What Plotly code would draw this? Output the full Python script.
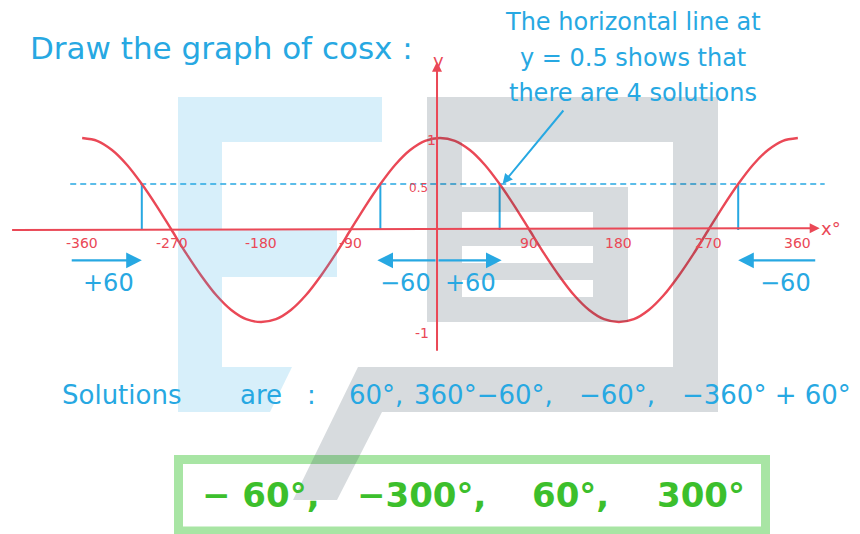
import plotly.graph_objects as go

# curve values, every 15 degrees
angles = list(range(-360, 361, 15))
cos_vals = [1, 0.97, 0.87, 0.71, 0.5, 0.26, 0, -0.26, -0.5, -0.71, -0.87, -0.97,
            -1, -0.97, -0.87, -0.71, -0.5, -0.26, 0, 0.26, 0.5, 0.71, 0.87, 0.97,
            1, 0.97, 0.87, 0.71, 0.5, 0.26, 0, -0.26, -0.5, -0.71, -0.87, -0.97,
            -1, -0.97, -0.87, -0.71, -0.5, -0.26, 0, 0.26, 0.5, 0.71, 0.87, 0.97, 1]

solutions = [-300, -60, 60, 300]
level = 0.5

tick_vals = [-360, -270, -180, -90, 90, 180, 270, 360]
tick_text = ["-360", "-270", "-180", "-90", "90", "180", "270", "360"]

RED = "#ea4856"
BLUE = "#27a8e2"
GREEN = "#3cbf2c"
FONT = "DejaVu Sans"

W, H = 860, 534
OFF = 8  # the page body keeps its default 8px margin
# pixel mapping of the sketch: 0 deg at x=440, ~1px per degree; y=0 at 230, 92px per unit
X0, XS = 440 - OFF, 0.994
Y0, YS = 230 - OFF, 92


def px(x):
    return (x - OFF) / W


def py(y):
    return 1 - (y - OFF) / H


def poly(points):
    return "M " + " L ".join(f"{px(x)},{py(y)}" for x, y in points) + " Z"


def label(x, y, t, size, color, anchor="center", bold=False):
    f = dict(family=FONT, size=size, color=color)
    if bold:
        f["weight"] = "bold"
    return dict(x=px(x), y=py(y), xref="paper", yref="paper", text=t, showarrow=False,
                xanchor=anchor, yanchor="middle", font=f)


fig = go.Figure()

# dashed line y = 0.5
fig.add_trace(go.Scatter(x=[-372, 387], y=[level, level], mode="lines",
                         line=dict(color=BLUE, width=1.6, dash="6px,4px"),
                         hoverinfo="skip"))

# vertical drops at the solutions
vx, vy = [], []
for s in solutions:
    vx += [s, s, None]
    vy += [0, level, None]
fig.add_trace(go.Scatter(x=vx, y=vy, mode="lines",
                         line=dict(color=BLUE, width=2), hoverinfo="skip"))

# cos curve
fig.add_trace(go.Scatter(x=angles, y=cos_vals, mode="lines",
                         line=dict(color=RED, width=2.4, shape="spline", smoothing=0.8),
                         hoverinfo="skip"))

ann = []

# axes drawn as arrows
ann.append(dict(x=382, y=0.02, ax=-432, ay=0, xref="x", yref="y", axref="x", ayref="y",
                showarrow=True, arrowhead=2, arrowsize=1, arrowwidth=2, arrowcolor=RED, text=""))
ann.append(dict(x=-3, y=1.83, ax=-3, ay=-1.33, xref="x", yref="y", axref="x", ayref="y",
                showarrow=True, arrowhead=2, arrowsize=1, arrowwidth=2, arrowcolor=RED, text=""))

for v, t in zip(tick_vals, tick_text):
    ann.append(dict(x=v, y=-0.14, xref="x", yref="y", text=t, showarrow=False,
                    yanchor="middle", font=dict(family=FONT, size=14, color=RED)))

ann.append(label(418, 188, "0.5", 12, RED))
ann.append(label(431, 140, "1", 14, RED))
ann.append(label(422, 333, "-1", 14, RED))
ann.append(label(831, 228, "x°", 18, RED))
ann.append(label(438, 60, "y", 18, RED))

# shift arrows (+60 / -60)
arrow_y = -0.33
for head, tail in [(-300, -372), (-63, -3), (62, -3), (300, 379)]:
    ann.append(dict(x=head, y=arrow_y, ax=tail, ay=arrow_y, xref="x", yref="y",
                    axref="x", ayref="y", showarrow=True, arrowhead=2, arrowsize=1.3,
                    arrowwidth=2.4, arrowcolor=BLUE, text=""))
for x, t in [(108, "+60"), (405, "−60"), (470, "+60"), (785, "−60")]:
    ann.append(label(x, 283, t, 24, BLUE))

# headings
ann.append(label(28, 48, "Draw the graph of cosx :", 31, BLUE, anchor="left"))
for y, t in [(22, "The horizontal line at"), (58, "y = 0.5 shows that"),
             (93, "there are 4 solutions")]:
    ann.append(label(633, y, t, 24, BLUE))
ann.append(dict(x=63, y=0.5, xref="x", yref="y", ax=62, ay=-75, text="", showarrow=True,
                arrowhead=2, arrowsize=1, arrowwidth=2, arrowcolor=BLUE))

# solutions line
for x, t in [(60, "Solutions"), (238, "are"), (305, ":"), (347, "60°,"),
             (412, "360°−60°,"), (577, "−60°,"), (680, "−360° + 60°")]:
    ann.append(label(x, 395, t, 26, BLUE, anchor="left"))

# boxed answer
for x, t in [(200, "− 60°,"), (355, "−300°,"), (530, "60°,"), (655, "300°")]:
    ann.append(label(x, 495, t, 34, GREEN, anchor="left", bold=True))

shapes = [dict(type="rect", xref="paper", yref="paper", x0=px(178.5), x1=px(765.5),
               y0=py(459.5), y1=py(531), line=dict(color="#a8e5a4", width=9), layer="below")]

# faint logo in the background
grey = "rgba(44,62,80,0.19)"
lblue = "rgba(41,171,226,0.19)"
grey_parts = [
    [(427, 97), (718, 97), (718, 142), (427, 142)],
    [(673, 142), (718, 142), (718, 367), (673, 367)],
    [(427, 142), (462, 142), (462, 187), (427, 187)],
    [(427, 187), (628, 187), (628, 212), (427, 212)],
    [(427, 212), (462, 212), (462, 297), (427, 297)],
    [(593, 212), (628, 212), (628, 297), (593, 297)],
    [(462, 228), (593, 228), (593, 246), (462, 246)],
    [(462, 263), (593, 263), (593, 280), (462, 280)],
    [(427, 297), (628, 297), (628, 322), (427, 322)],
    [(358, 367), (718, 367), (718, 412), (382, 412), (337, 500), (293, 500)],
]
blue_parts = [
    [(178, 97), (382, 97), (382, 142), (178, 142)],
    [(178, 142), (222, 142), (222, 367), (178, 367)],
    [(222, 230), (337, 230), (337, 277), (222, 277)],
    [(178, 367), (292, 367), (270, 412), (178, 412)],
]
for p in grey_parts:
    shapes.append(dict(type="path", xref="paper", yref="paper", path=poly(p),
                       fillcolor=grey, line=dict(width=0), layer="above"))
for p in blue_parts:
    shapes.append(dict(type="path", xref="paper", yref="paper", path=poly(p),
                       fillcolor=lblue, line=dict(width=0), layer="above"))

fig.update_layout(
    width=W, height=H, margin=dict(l=0, r=0, t=0, b=0),
    paper_bgcolor="white", plot_bgcolor="white", showlegend=False,
    xaxis=dict(range=[(0 - X0) / XS, (W - X0) / XS], visible=False, fixedrange=True),
    yaxis=dict(range=[(Y0 - H) / YS, Y0 / YS], visible=False, fixedrange=True),
    annotations=ann, shapes=shapes,
)

fig.write_html("out.html")
